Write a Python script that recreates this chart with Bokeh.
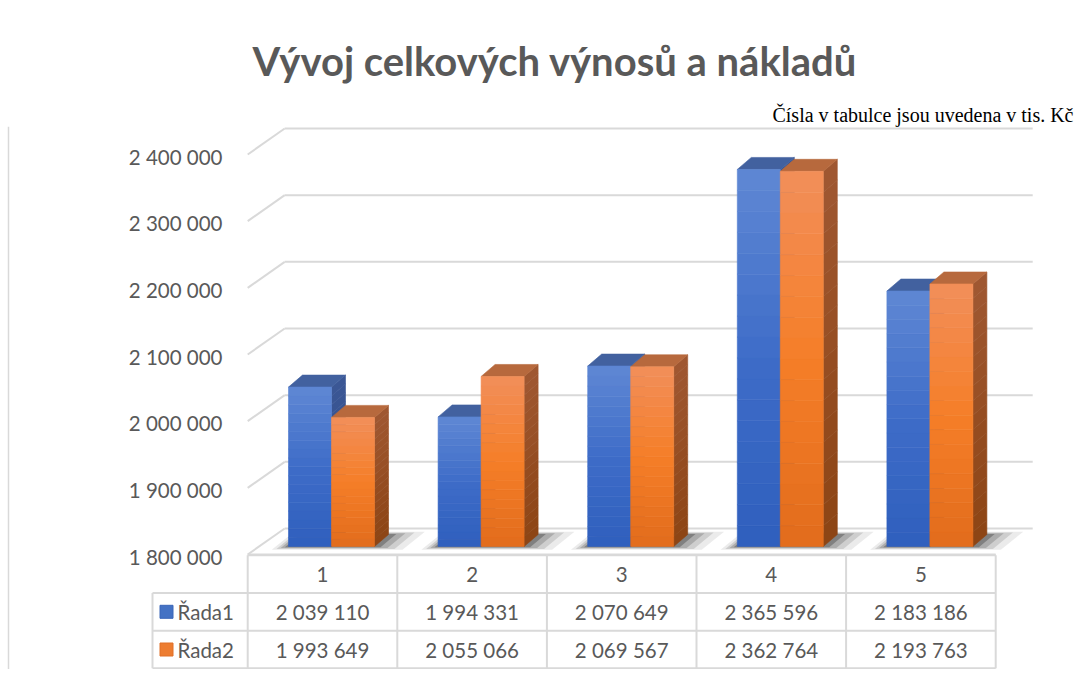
import numpy as np
from bokeh.plotting import figure
from bokeh.models import Range1d, Title, Span
from bokeh.core.properties import value
from bokeh.embed import file_html
from bokeh.resources import INLINE

# ---------------- data ----------------
categories = ["1", "2", "3", "4", "5"]
rada1 = [2039110, 1994331, 2070649, 2365596, 2183186]
rada2 = [1993649, 2055066, 2069567, 2362764, 2193763]
series_names = ["Řada1", "Řada2"]
tick_values = [1800000, 1900000, 2000000, 2100000, 2200000, 2300000, 2400000]
tick_labels = ["1 800 000", "1 900 000", "2 000 000", "2 100 000",
               "2 200 000", "2 300 000", "2 400 000"]
title_text = "Vývoj celkových výnosů a nákladů"
subtitle_text = "Čísla v tabulce jsou uvedena v tis. Kč"

# ---------------- layout constants (pixels) ----------------
FIG_W = 1075
FRAME_H = 543
TOP_BORDER = 126
U = 149.6                 # px per category
K = 400.0 / 600000.0      # px per value unit
X1_PX = 322               # px of category 1 centre from frame left
BASE_FROM_BOTTOM = 115    # px of base value (front edge) above frame bottom
ROW_H = 37.7
ROW0_FROM_BOTTOM = 20

base_val = tick_values[0]
x_start = 1 - X1_PX / U
x_end = x_start + FIG_W / U
y_start = base_val - BASE_FROM_BOTTOM / K
y_end = y_start + FRAME_H / K
t_start = -ROW0_FROM_BOTTOM / ROW_H
t_end = t_start + FRAME_H / ROW_H

def dx(px):
    return px / U

def dv(px):
    return px / K

def xpx(px):
    return 1 + (px - X1_PX) / U

GRID = "#d9d9d9"
TXT = "#595959"
FONT = value("Lato")
FS = "20.5px"

p = figure(frame_width=FIG_W, frame_height=FRAME_H,
           x_range=Range1d(x_start, x_end), y_range=Range1d(y_start, y_end),
           output_backend="svg", toolbar_location=None, title=None,
           x_axis_location=None, y_axis_location=None,
           min_border_left=0, min_border_right=0, min_border_bottom=0,
           min_border_top=TOP_BORDER)
p.extra_y_ranges = {"table": Range1d(t_start, t_end)}
p.outline_line_color = None
p.background_fill_color = "white"
p.border_fill_color = "white"
p.xgrid.visible = False
p.ygrid.visible = False
p.grid.visible = False

sub = Title(text=subtitle_text, align="right", offset=2, standoff=2,
            text_font="Liberation Serif", text_font_size="20px",
            text_font_style="normal", text_color="black")
main = Title(text=title_text, align="left", offset=252, standoff=31, text_font="Lato",
             text_font_size="40px", text_font_style="bold", text_color=TXT)
p.add_layout(sub, "above")
p.add_layout(main, "above")

# chart border line on the left
p.add_layout(Span(location=xpx(8), dimension="height", line_color=GRID, line_width=1.5))

# ---------------- walls / floor ----------------
n = len(categories)
left_edge = 0.5
right_edge = n + 0.5
bx, bv = dx(37), dv(26)   # back wall depth
p.segment(x0=[left_edge] * len(tick_values), y0=tick_values,
          x1=[left_edge + bx] * len(tick_values), y1=[v + bv for v in tick_values],
          line_color=GRID, line_width=2)
p.segment(x0=[left_edge + bx] * len(tick_values), y0=[v + bv for v in tick_values],
          x1=[right_edge + bx] * len(tick_values), y1=[v + bv for v in tick_values],
          line_color=GRID, line_width=2)
p.segment(x0=[left_edge], y0=[base_val], x1=[right_edge], y1=[base_val],
          line_color=GRID, line_width=2)

# ---------------- bars ----------------
bw = dx(43)
fdx, fdv = dx(9), dv(8)
ddx, ddv = dx(14), dv(12)
NS = 18

def interp(stops, t):
    for (p0, c0), (p1, c1) in zip(stops[:-1], stops[1:]):
        if p0 <= t <= p1:
            f = (t - p0) / (p1 - p0) if p1 > p0 else 0
            c = [int(round(a + (b - a) * f)) for a, b in zip(c0, c1)]
            return "#%02x%02x%02x" % tuple(c)
    c = stops[-1][1]
    return "#%02x%02x%02x" % tuple(c)

front_stops = [
    [(0, (47, 95, 189)), (0.5, (62, 108, 200)), (1, (95, 136, 212))],
    [(0, (226, 108, 28)), (0.5, (245, 126, 40)), (1, (242, 143, 90))],
]
side_stops = [
    [(0, (38, 66, 128)), (1, (60, 88, 150))],
    [(0, (140, 68, 20)), (1, (160, 88, 50))],
]
top_cols = ["#42619f", "#b7693d"]
shadow_layers = [(28, 0.08), (20, 0.12), (13, 0.17), (6, 0.25)]

for e, a in shadow_layers:
    xs_list, ys_list = [], []
    for i in range(n):
        c = i + 1
        L = c - bw + fdx
        R = c + bw + fdx
        b = base_val + fdv
        xs_list.append([L - dx(e * 0.6), R + dx(e), R + ddx + dx(e * 1.3), L + ddx - dx(e * 0.3)])
        ys_list.append([b - dv(e * 0.12), b - dv(e * 0.12), b + ddv + dv(e * 0.1), b + ddv + dv(e * 0.1)])
    p.patches(xs=xs_list, ys=ys_list, fill_color="black", fill_alpha=a, line_color=None)

for s, vals in enumerate([rada1, rada2]):
    fl, fr, fb, ft, fc = [], [], [], [], []
    sxs, sys_, sc = [], [], []
    txs, tys = [], []
    for i, v in enumerate(vals):
        c = i + 1
        L = c - bw + s * bw + fdx
        R = L + bw
        b = base_val + fdv
        t = v + fdv
        for j in range(NS):
            y0 = b + (t - b) * j / NS
            y1 = b + (t - b) * (j + 1) / NS
            tm = (j + 0.5) / NS
            fl.append(L); fr.append(R); fb.append(y0); ft.append(y1)
            fc.append(interp(front_stops[s], tm))
            sxs.append([R, R + ddx, R + ddx, R])
            sys_.append([y0, y0 + ddv, y1 + ddv, y1])
            sc.append(interp(side_stops[s], tm))
        txs.append([L, R, R + ddx, L + ddx])
        tys.append([t, t, t + ddv, t + ddv])
    p.patches(xs=sxs, ys=sys_, fill_color=sc, line_color=sc, line_width=0.6)
    p.patches(xs=txs, ys=tys, fill_color=top_cols[s], line_color=top_cols[s], line_width=0.6)
    p.quad(left=fl, right=fr, bottom=fb, top=ft, fill_color=fc, line_color=fc, line_width=0.6)

# ---------------- y tick labels ----------------
p.text(x=[xpx(222)] * len(tick_values), y=[v - dv(2) for v in tick_values], text=tick_labels,
       text_align="right", text_baseline="middle", text_font=FONT,
       text_font_size=FS, text_color=TXT)

# ---------------- data table ----------------
x_leg = xpx(152)
tl_x0, tl_y0, tl_x1, tl_y1 = [], [], [], []
tl_x0 += [0.5, x_leg, x_leg, x_leg]
tl_x1 += [n + 0.5] * 4
tl_y0 += [2.5, 1.5, 0.5, -0.5]
tl_y1 += [2.5, 1.5, 0.5, -0.5]
tl_x0 += [x_leg]; tl_x1 += [x_leg]; tl_y0 += [-0.5]; tl_y1 += [1.5]
for k in range(n + 1):
    tl_x0.append(k + 0.5); tl_x1.append(k + 0.5); tl_y0.append(-0.5); tl_y1.append(2.5)
p.segment(x0=tl_x0, y0=tl_y0, x1=tl_x1, y1=tl_y1, line_color=GRID, line_width=2,
          y_range_name="table")

def fmt(v):
    return f"{v:,}".replace(",", " ")

xs_cat = list(range(1, n + 1))
p.text(x=xs_cat, y=[2] * n, text=categories, text_align="center", text_baseline="middle",
       text_font=FONT, text_font_size=FS, text_color=TXT, y_range_name="table")
p.text(x=xs_cat * 2, y=[1] * n + [0] * n, text=[fmt(v) for v in rada1] + [fmt(v) for v in rada2],
       text_align="center", text_baseline="middle", text_font=FONT, text_font_size=FS,
       text_color=TXT, y_range_name="table")

p.scatter(x=[xpx(166)] * 2, y=[1, 0], marker="square", size=13,
          fill_color=["#4472c4", "#ed7d31"], line_color=["#3a66b8", "#e07028"],
          y_range_name="table")
p.text(x=[xpx(177)] * 2, y=[1, 0], text=series_names, text_align="left",
       text_baseline="middle", text_font=FONT, text_font_size=FS, text_color=TXT,
       y_range_name="table")

open("out.html", "w").write(file_html(p, INLINE))
